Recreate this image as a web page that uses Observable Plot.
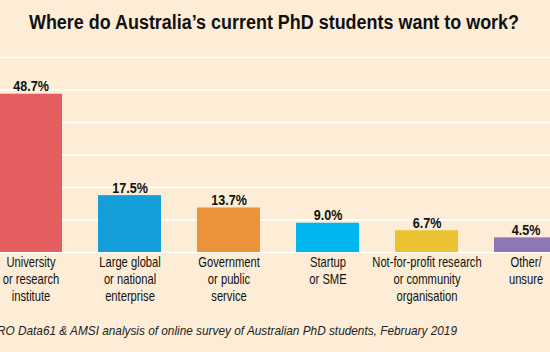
<!DOCTYPE html>
<html>
<head>
<meta charset="utf-8">
<script src="https://cdn.jsdelivr.net/npm/d3@7"></script>
<script src="https://cdn.jsdelivr.net/npm/@observablehq/plot@0.6"></script>
<style>
  html, body { margin: 0; padding: 0; overflow: hidden; background: #fdedd6; }
  #wrap { position: relative; width: 550px; height: 352px; background: #fdedd6; overflow: hidden;
          font-family: "Liberation Sans", Arial, sans-serif; }
  #title { position: absolute; left: 0; width: 548px; top: 11px; text-align: center;
           font-weight: bold; font-size: 19.5px; line-height: 22px; color: #111; white-space: nowrap;
           transform: scaleX(0.92); transform-origin: 274px 0; }
  #chart { position: absolute; left: 0; top: 48px; }
  #caption { position: absolute; right: 93px; width: 1000px; text-align: right; top: 323px;
             font-style: italic; font-size: 13.5px; line-height: 16px; color: #222; white-space: nowrap;
             transform: scaleX(0.875); transform-origin: 100% 0; }
</style>
</head>
<body>
<div id="wrap">
  <div id="title">Where do Australia’s current PhD students want to work?</div>
  <div id="chart"></div>
  <div id="caption">Source: CSIRO Data61 &amp; AMSI analysis of online survey of Australian PhD students, February 2019</div>
</div>
<script>
const categories = [
  "University\nor research\ninstitute",
  "Large global\nor national\nenterprise",
  "Government\nor public\nservice",
  "Startup\nor SME",
  "Not-for-profit research\nor community\norganisation",
  "Other/\nunsure"
];
const values = [48.7, 17.5, 13.7, 9.0, 6.7, 4.5];
const valueLabels = ["48.7%", "17.5%", "13.7%", "9.0%", "6.7%", "4.5%"];
const colors = ["#e45d5f", "#159fda", "#eb933b", "#00b6ee", "#ebc331", "#8f76b6"];
const gridTicks = [0, 10, 20, 30, 40, 50, 60];

const data = categories.map((c, i) => ({category: c, value: values[i], label: valueLabels[i], color: colors[i]}));
const FONT = '"Liberation Sans", Arial, sans-serif';

const plot = Plot.plot({
  width: 550,
  height: 260,
  marginTop: 9,
  marginBottom: 56,
  marginLeft: 0,
  marginRight: 0,
  style: {background: "transparent", fontFamily: FONT, overflow: "visible"},
  x: {domain: categories, range: [-18.5, 575.5], padding: 0.36, paddingOuter: 0.18, axis: null},
  y: {domain: [0, 60], axis: null},
  marks: [
    Plot.ruleY(gridTicks, {stroke: "white", strokeWidth: 1.5}),
    Plot.barY(data, {x: "category", y: "value", fill: "color"}),
    Plot.text(data, {x: "category", y: "value", text: "label", lineAnchor: "bottom", dy: -3,
      fontSize: 15, fontWeight: "bold", fill: "#111", className: "condv"}),
    Plot.text(data, {x: "category", y: () => 0, text: "category", lineAnchor: "top", dy: 3,
      fontSize: 14, lineHeight: 1.19, fill: "#111", className: "condc"})
  ]
});
// condense the text horizontally (Helvetica Condensed look) around each label's anchor
function condense(sel, s) {
  plot.querySelectorAll(sel).forEach(t => {
    const tr = t.getAttribute("transform");
    if (tr) {
      t.setAttribute("transform", tr + ` scale(${s},1)`);
    } else {
      const x = +t.getAttribute("x") || 0, y = +t.getAttribute("y") || 0;
      t.removeAttribute("x"); t.removeAttribute("y");
      t.querySelectorAll("tspan").forEach(sp => sp.setAttribute("x", 0));
      t.setAttribute("transform", `translate(${x},${y}) scale(${s},1)`);
    }
  });
}
condense("g.condv text", 0.84);
condense("g.condc text", 0.8);
document.getElementById("chart").appendChild(plot);
</script>
</body>
</html>
